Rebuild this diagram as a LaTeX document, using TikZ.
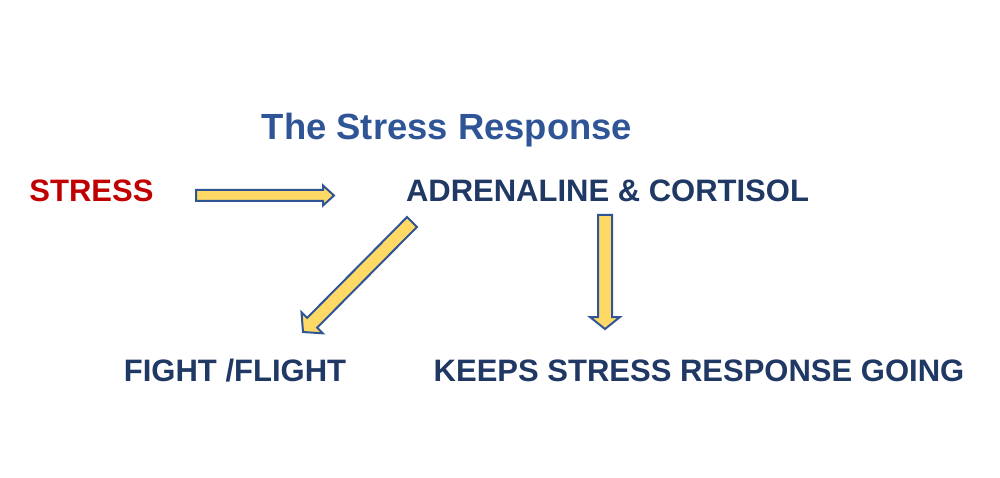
\documentclass[tikz,border=0pt]{standalone}
\usepackage{fontspec}
\setmainfont{Liberation Sans}
\usepackage{xcolor}
\usepackage{tikz}
\usetikzlibrary{calc,positioning}

\definecolor{titleblue}{HTML}{2F5597}
\definecolor{navy}{HTML}{203864}
\definecolor{stressred}{HTML}{C00000}
\definecolor{arrowfill}{HTML}{FFD966}
\definecolor{arrowline}{HTML}{2F5597}

% block arrow: from, to, shaft half width, head half width, head length
\newcommand{\blockarrow}[5]{%
  \coordinate (hb) at ($(#2)!#5!(#1)$);
  \draw[fill=arrowfill,draw=arrowline,line width=2pt,line join=miter]
    ($(#1)!#3!90:(#2)$) -- ($(hb)!#3!90:(#2)$) -- ($(hb)!#4!90:(#2)$)
    -- (#2) -- ($(hb)!#4!-90:(#2)$) -- ($(hb)!#3!-90:(#2)$)
    -- ($(#1)!#3!-90:(#2)$) -- cycle;}

\begin{document}
\begin{tikzpicture}[x=1pt,y=-1pt, every node/.style={font=\bfseries\fontsize{31}{31}\selectfont, inner sep=0pt, anchor=base}]
\useasboundingbox[fill=white] (0,0) rectangle (1000,478);

\node[text=titleblue,font=\bfseries\fontsize{36.4}{36}\selectfont] (title) at (447,140) {The Stress Response};
\node[text=stressred] (stress) at (91.5,202) {STRESS};
\node[text=navy] (hormones) at (607.5,202) {ADRENALINE \& CORTISOL};
\node[text=navy] (fight) at (235,381) {FIGHT /FLIGHT};
\node[text=navy] (keeps) at (699,381) {KEEPS STRESS RESPONSE GOING};

% arrow ends
\coordinate (a1) at (196,195.5);
\coordinate (a2) at (334,195.5);
\coordinate (b1) at (412,222);
\coordinate (b2) at (303,332);
\coordinate (c1) at (605,215);
\coordinate (c2) at (605,329);

\blockarrow{a1}{a2}{5.5pt}{10pt}{11pt}
\blockarrow{b1}{b2}{7pt}{15pt}{13pt}
\blockarrow{c1}{c2}{7pt}{15pt}{12pt}
\end{tikzpicture}
\end{document}
